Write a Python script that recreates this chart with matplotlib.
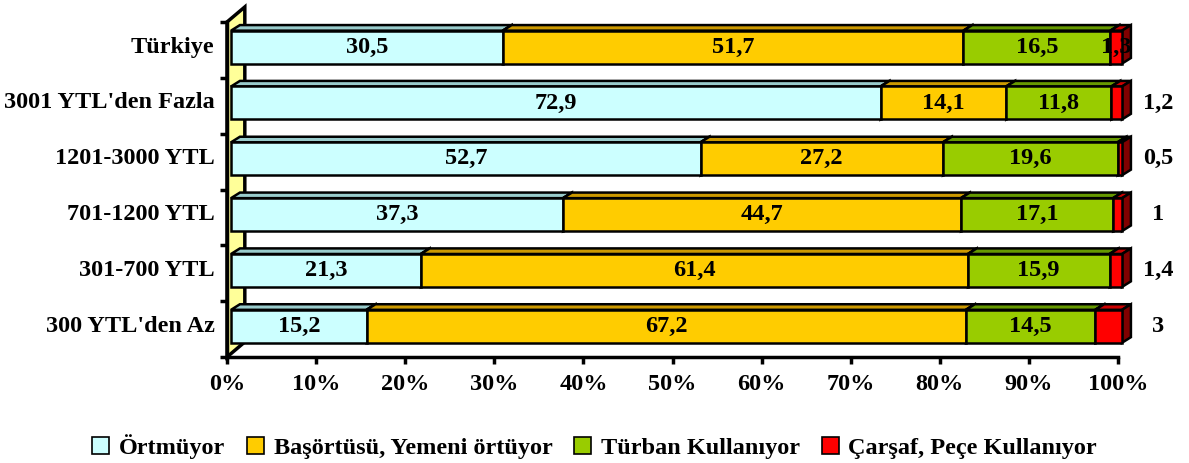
import matplotlib.pyplot as plt
from matplotlib.patches import Polygon, Patch

plt.rcParams['font.family'] = ['Liberation Serif', 'DejaVu Serif']
plt.rcParams['font.weight'] = 'bold'

categories = ["Türkiye", "3001 YTL'den Fazla", "1201-3000 YTL",
              "701-1200 YTL", "301-700 YTL", "300 YTL'den Az"]
series_names = ["Örtmüyor", "Başörtüsü, Yemeni örtüyor",
                "Türban Kullanıyor", "Çarşaf, Peçe Kullanıyor"]
ortmuyor = [30.5, 72.9, 52.7, 37.3, 21.3, 15.2]
basortusu = [51.7, 14.1, 27.2, 44.7, 61.4, 67.2]
turban = [16.5, 11.8, 19.6, 17.1, 15.9, 14.5]
carsaf = [1.3, 1.2, 0.5, 1, 1.4, 3]
values = [ortmuyor, basortusu, turban, carsaf]

front = ["#CCFFFF", "#FFCC00", "#99CC00", "#FF0000"]
top = ["#99CCCC", "#CC9900", "#669900", "#CC0000"]
side = ["#669999", "#996600", "#336600", "#800000"]

fig = plt.figure(figsize=(11.89, 4.63), dpi=100)
ax = fig.add_axes([227 / 1189, 1 - 357 / 463, 891 / 1189, 335 / 463])
ax.set_xlim(0, 100)
ax.set_ylim(0, 6)

# depth of wall and bars (data units)
wdx, wdy = 2.0, 0.27
bdx, bdy = 1.0, 0.1
ox, oy = 0.45, 0.05
h = 0.59
fs = 17.5

wall = Polygon([(0, 0), (0, 6), (wdx, 6 + wdy), (wdx, wdy)], closed=True,
               facecolor="#FFFF99", edgecolor="black", lw=2.5, clip_on=False, zorder=1)
ax.add_patch(wall)

z = 3
for i, cat in enumerate(categories):
    yc = 5.5 - i + oy
    y0, y1 = yc - h / 2, yc + h / 2
    total = sum(v[i] for v in values)
    left = ox
    for s in range(4):
        w = values[s][i] / total * 100
        x0, x1 = left, left + w
        ax.add_patch(Polygon([(x0, y1), (x0 + bdx, y1 + bdy), (x1 + bdx, y1 + bdy), (x1, y1)],
                             facecolor=top[s], edgecolor="black", lw=1.8, clip_on=False, zorder=z))
        ax.add_patch(Polygon([(x1, y0), (x1 + bdx, y0 + bdy), (x1 + bdx, y1 + bdy), (x1, y1)],
                             facecolor=side[s], edgecolor="black", lw=1.8, clip_on=False, zorder=z))
        ax.add_patch(Polygon([(x0, y0), (x0, y1), (x1, y1), (x1, y0)],
                             facecolor=front[s], edgecolor="black", lw=1.8, clip_on=False, zorder=z + 1))
        lab = f"{values[s][i]:g}".replace(".", ",")
        if s < 3 or i == 0:
            ax.text((x0 + x1) / 2, yc, lab, ha="center", va="center", fontsize=fs,
                    fontweight="bold", zorder=50)
        else:
            ax.text(104.5, yc, lab, ha="center", va="center", fontsize=fs,
                    fontweight="bold", clip_on=False, zorder=50)
        left = x1
        z += 2
    ax.text(-1.4, yc, cat, ha="right", va="center", fontsize=fs, fontweight="bold")

for sp in ["top", "right"]:
    ax.spines[sp].set_visible(False)
ax.spines["bottom"].set_linewidth(2.5)
ax.spines["left"].set_linewidth(2.5)
ax.spines["bottom"].set_zorder(100)
ax.set_xticks(range(0, 101, 10))
ax.set_xticklabels([f"{v}%" for v in range(0, 101, 10)], fontsize=fs, fontweight="bold")
ax.set_yticks(range(7))
ax.set_yticklabels([])
ax.tick_params(axis="both", length=5, width=2.5, direction="out")
ax.tick_params(axis="x", pad=7)

handles = [Patch(facecolor=front[s], edgecolor="black", lw=1.2) for s in range(4)]
fig.legend(handles, series_names, loc="center", bbox_to_anchor=(0.5, 0.035), ncol=4,
           frameon=False, handlelength=0.7, handleheight=0.7,
           handletextpad=0.4, columnspacing=0.9, prop={"weight": "bold", "size": fs})

fig.savefig("out.png", dpi=100)
